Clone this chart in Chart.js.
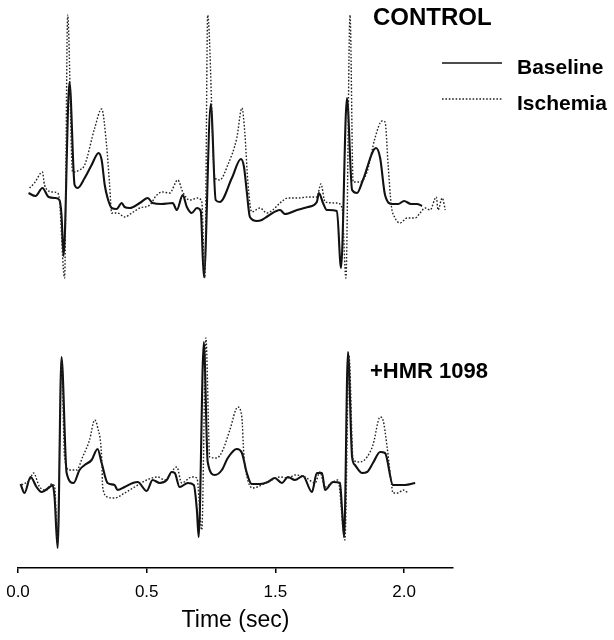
<!DOCTYPE html>
<html>
<head>
<meta charset="utf-8">
<script src="https://cdn.jsdelivr.net/npm/chart.js@4.4.1/dist/chart.umd.min.js"></script>
<style>
  html, body { margin: 0; padding: 0; background: #fff; }
  #wrap { position: relative; width: 614px; height: 640px; }
  canvas { display: block; }
</style>
</head>
<body>
<div id="wrap"><canvas id="c" width="614" height="640"></canvas></div>
<script>
// ---- Data (time in s, amplitude in mV) ----
const tickValues = [0, 0.5, 1.0, 1.5];
const tickLabels = ['0.0', '0.5', '1.5', '2.0'];
const axisTitle = 'Time (sec)';
const panelLabels = ['CONTROL', '+HMR 1098'];
const seriesNames = ['Baseline', 'Ischemia'];

// CONTROL – Baseline
const ctrlBaseTime = [0.041,0.068,0.095,0.119,0.146,0.161,0.169,0.177,0.200,0.220,0.232,0.259,0.286,0.313,0.325,0.337,0.348,0.364,0.383,0.403,0.414,0.434,0.473,0.504,0.523,0.558,0.601,0.617,0.640,0.656,0.675,0.695,0.710,0.722,0.749,0.768,0.784,0.831,0.866,0.878,0.889,0.901,0.928,0.947,0.971,1.018,1.037,1.084,1.126,1.161,1.169,1.185,1.200,1.239,1.255,1.278,1.298,1.317,1.340,1.391,1.407,1.426,1.454,1.477,1.500,1.527,1.550,1.570];
const ctrlBaseMv   = [0.12,0.09,0.17,0.08,0.07,0.05,-0.10,-0.51,1.23,0.20,0.17,0.27,0.40,0.52,0.45,0.20,0.07,-0.03,-0.04,0.02,-0.02,-0.03,0.02,0.07,0.02,0.01,0.02,-0.05,0.10,-0.02,-0.08,-0.03,-0.06,-0.72,1.01,0.05,0.03,0.27,0.46,0.38,0.13,-0.12,-0.16,-0.15,-0.11,-0.05,-0.09,-0.05,-0.02,0.03,0.12,0.02,-0.05,-0.06,-0.63,1.07,0.15,0.12,0.25,0.57,0.47,0.10,0.01,0.01,0.04,0.01,0.01,-0.01];

// CONTROL – Ischemia
const ctrlIschTime = [0.045,0.064,0.095,0.103,0.134,0.154,0.161,0.181,0.193,0.212,0.239,0.259,0.298,0.325,0.344,0.356,0.364,0.387,0.414,0.442,0.473,0.512,0.539,0.562,0.589,0.621,0.640,0.667,0.698,0.714,0.726,0.737,0.765,0.784,0.815,0.850,0.870,0.881,0.893,0.908,0.940,0.967,0.990,1.018,1.049,1.088,1.126,1.161,1.177,1.193,1.239,1.259,1.274,1.290,1.302,1.329,1.356,1.387,1.414,1.426,1.438,1.450,1.465,1.484,1.512,1.543,1.562,1.582,1.601,1.625,1.632,1.648,1.660];
const ctrlIschMv   = [0.17,0.22,0.33,0.20,0.13,0.12,0.05,-0.73,1.90,0.33,0.35,0.40,0.77,0.96,0.60,0.20,-0.08,-0.08,-0.12,-0.08,-0.03,0.00,0.10,0.13,0.12,0.25,0.13,0.05,0.07,0.03,-0.73,1.90,0.27,0.25,0.40,0.67,0.97,0.73,0.23,-0.07,-0.03,-0.08,-0.05,0.02,0.07,0.07,0.08,0.08,0.21,0.03,0.02,-0.03,-0.73,1.90,0.23,0.23,0.33,0.67,0.84,0.83,0.40,0.00,-0.13,-0.18,-0.13,-0.13,-0.08,-0.03,-0.05,0.08,-0.05,0.07,-0.05];

// +HMR 1098 – Baseline
const hmrBaseTime = [0.010,0.025,0.049,0.072,0.091,0.123,0.134,0.142,0.154,0.169,0.189,0.216,0.239,0.259,0.286,0.309,0.325,0.348,0.375,0.387,0.414,0.446,0.465,0.500,0.523,0.551,0.578,0.597,0.609,0.628,0.660,0.683,0.695,0.702,0.722,0.737,0.765,0.792,0.815,0.850,0.870,0.889,0.908,0.940,0.971,0.998,1.025,1.049,1.076,1.107,1.142,1.161,1.181,1.193,1.224,1.251,1.259,1.267,1.282,1.298,1.309,1.337,1.356,1.379,1.407,1.426,1.457,1.504,1.543];
const hmrBaseMv   = [0.03,-0.06,0.10,0.00,-0.05,0.00,0.02,-0.10,-0.61,1.30,0.14,0.04,0.17,0.22,0.27,0.38,0.24,0.04,0.02,-0.03,0.00,0.04,0.05,-0.04,0.07,0.04,0.07,0.15,0.14,0.00,0.04,0.02,-0.23,-0.50,1.45,0.25,0.12,0.17,0.29,0.38,0.34,0.14,0.03,0.03,0.05,0.09,0.04,0.10,0.07,0.11,-0.05,0.14,0.14,-0.03,0.05,0.04,-0.23,-0.50,1.35,0.30,0.22,0.14,0.15,0.24,0.35,0.34,0.02,0.02,0.04];

// +HMR 1098 – Ischemia
const hmrIschTime = [0.014,0.045,0.060,0.084,0.111,0.130,0.142,0.154,0.169,0.181,0.200,0.228,0.251,0.278,0.298,0.309,0.325,0.329,0.348,0.375,0.414,0.453,0.500,0.543,0.570,0.617,0.636,0.675,0.695,0.714,0.730,0.745,0.772,0.796,0.823,0.854,0.870,0.877,0.893,0.912,0.947,0.986,1.018,1.049,1.076,1.115,1.154,1.173,1.193,1.224,1.243,1.270,1.286,1.302,1.329,1.356,1.379,1.407,1.418,1.434,1.450,1.457,1.477,1.496,1.516];
const hmrIschMv   = [0.02,0.07,0.14,0.00,-0.03,0.03,0.01,-0.56,1.27,0.30,0.17,0.17,0.30,0.47,0.67,0.60,0.30,0.00,-0.10,-0.11,-0.06,0.00,0.07,0.10,0.07,0.20,0.04,0.10,0.09,-0.43,1.49,0.30,0.29,0.37,0.57,0.80,0.69,0.34,0.07,-0.01,0.02,0.07,0.10,0.09,0.12,0.10,0.04,0.15,0.00,0.05,0.07,-0.53,1.32,0.27,0.25,0.30,0.42,0.70,0.67,0.40,0.05,-0.06,-0.06,-0.03,-0.06];

// ---- helpers ----
const pts = (t, v) => t.map((x, i) => ({ x: x, y: v[i] }));
const FONT = "'Liberation Sans', Arial, Helvetica, sans-serif";

const solidStyle = { borderColor: '#111', borderWidth: 2.1, borderDash: [] };
const dotStyle   = { borderColor: '#222', borderWidth: 1.4, borderDash: [1.6, 1.8] };

function ds(label, data, axis, style) {
  return Object.assign({
    label: label, data: data, yAxisID: axis,
    pointRadius: 0, cubicInterpolationMode: 'monotone', fill: false, clip: false,
    borderCapStyle: 'butt', borderJoinStyle: 'round'
  }, style);
}

const annotations = {
  id: 'annotations',
  afterDatasetsDraw(chart) {
    const ctx = chart.ctx;
    ctx.save();
    ctx.fillStyle = '#000';
    ctx.textBaseline = 'alphabetic';
    ctx.textAlign = 'left';
    ctx.font = 'bold 24px ' + FONT;
    ctx.fillText(panelLabels[0], 373, 25);
    ctx.font = 'bold 22px ' + FONT;
    ctx.fillText(panelLabels[1], 370, 378);
    // legend
    const items = [solidStyle, dotStyle];
    const ys = [63, 99];
    ctx.font = 'bold 21px ' + FONT;
    items.forEach((st, i) => {
      ctx.beginPath();
      ctx.strokeStyle = st.borderColor;
      ctx.lineWidth = st.borderWidth * (i === 0 ? 0.8 : 0.9);
      ctx.setLineDash(st.borderDash);
      ctx.moveTo(442, ys[i]);
      ctx.lineTo(502, ys[i]);
      ctx.stroke();
      ctx.setLineDash([]);
      ctx.fillText(seriesNames[i], 517, ys[i] + 11);
    });
    ctx.restore();
  }
};

new Chart(document.getElementById('c'), {
  type: 'line',
  data: {
    datasets: [
      ds(seriesNames[1], pts(ctrlIschTime, ctrlIschMv), 'yTop', dotStyle),
      ds(seriesNames[0], pts(ctrlBaseTime, ctrlBaseMv), 'yTop', solidStyle),
      ds(seriesNames[1], pts(hmrIschTime, hmrIschMv), 'yBot', dotStyle),
      ds(seriesNames[0], pts(hmrBaseTime, hmrBaseMv), 'yBot', solidStyle)
    ]
  },
  options: {
    responsive: false,
    animation: false,
    devicePixelRatio: 1,
    layout: { padding: { left: 18, right: 161, top: 10, bottom: 0 } },
    plugins: { legend: { display: false }, tooltip: { enabled: false } },
    scales: {
      x: {
        type: 'linear', min: 0, max: 1.69, offset: false,
        afterBuildTicks: (scale) => { scale.ticks = tickValues.map(v => ({ value: v })); },
        afterFit: (scale) => { scale.height = 72; scale.paddingLeft = 12; scale.paddingRight = 0; },
        grid: { display: true, drawOnChartArea: false, drawTicks: true, tickLength: 5, color: '#000', lineWidth: 1.5 },
        border: { display: true, color: '#000', width: 1.5 },
        ticks: {
          color: '#000', padding: 9, maxRotation: 0, autoSkip: false,
          font: { family: FONT, size: 17 },
          callback: (val, i) => tickLabels[i]
        },
        title: {
          display: true, text: axisTitle, color: '#000',
          font: { family: FONT, size: 23 }, padding: { top: 0, bottom: 6 }
        }
      },
      yTop: { type: 'linear', display: false, min: -3.63, max: 1.95 },
      yBot: { type: 'linear', display: false, min: -0.81, max: 4.77 }
    }
  },
  plugins: [annotations]
});
</script>
</body>
</html>
